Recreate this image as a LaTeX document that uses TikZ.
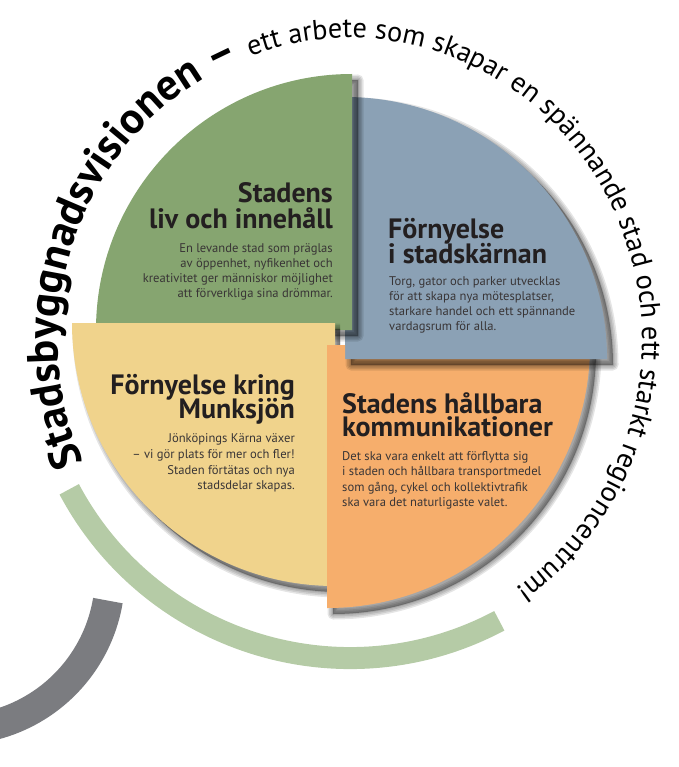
\documentclass[tikz,border=0pt]{standalone}
\usepackage{fontspec}
\setmainfont{PT Sans}
\usetikzlibrary{decorations.text}
\definecolor{cgreen}{HTML}{86A570}
\definecolor{cblue}{HTML}{8BA1B5}
\definecolor{cyellow}{HTML}{F0D38C}
\definecolor{corange}{HTML}{F6AE6C}
\definecolor{cring}{HTML}{B5CBA6}
\definecolor{chandle}{HTML}{7B7C80}
\definecolor{ctext}{HTML}{231F20}
\newcommand\ringboldfont{\fontsize{44}{44}\selectfont\bfseries}
\newcommand\ringregfont{\fontsize{28.3}{28.3}\selectfont\mdseries}
\tikzset{
  ttl/.style={font=\fontsize{28}{28}\selectfont\bfseries, text=ctext, inner sep=0pt},
  bdy/.style={font=\fontsize{12.6}{12.6}\selectfont, text=ctext!90, inner sep=0pt},
  shadowlayer/.style={black, opacity=0.1, line join=round},
}
\newcommand\dropshadow[1]{%
  \foreach \w in {11,8,5,2}{%
    \filldraw[shadowlayer, line width=\w pt, shift={(6,-6)}] #1;}%
}
\begin{document}
\begin{tikzpicture}[x=1pt,y=1pt]
\useasboundingbox (0,0) rectangle (678,-767);
% pieces as paths
\def\pgreen{(352,-330) -- ++(0,256) arc[start angle=90,end angle=180,radius=256pt] -- cycle}
\def\pblue{(345,-359) -- ++(262,0) arc[start angle=0,end angle=90,radius=262pt] -- cycle}
\def\pyellow{(335,-323) -- ++(-263,0) arc[start angle=180,end angle=270,radius=263pt] -- cycle}
\def\porange{(327,-345) -- ++(0,-263) arc[start angle=270,end angle=360,radius=263pt] -- cycle}
% ring and handle
\draw[cring, line width=22pt] (350,-340) ++(208:318) arc[start angle=208,end angle=298,radius=318pt];
\draw[chandle, line width=30pt] (-45,-575) ++(-9.5:155) arc[start angle=-9.5,end angle=-100,radius=155pt];
% orange (right part), blue, green, yellow, orange (left part)
\dropshadow{\porange}
\begin{scope}
  \clip (345,0) rectangle (678,-767);
  \fill[corange] \porange;
\end{scope}
\dropshadow{\pblue}
\fill[cblue] \pblue;
\dropshadow{\pgreen}
\fill[cgreen] \pgreen;
\begin{scope}
  \clip (0,0) rectangle (340,-767);
  \dropshadow{\pyellow}
\end{scope}
\fill[cyellow] \pyellow;
\begin{scope}
  \clip (0,0) rectangle (345,-767);
  \fill[corange] \porange;
\end{scope}
% curved text
\path[decorate, decoration={text along path, text align={left indent=0pt},
  text={|\ringboldfont|Stadsbyggnadsvisionen – |\ringregfont|ett arbete som skapar en spännande stad och ett starkt regioncentrum!}}]
  (350,-340) ++(204:292 and 302) arc[start angle=204,end angle=-110,x radius=292pt,y radius=302pt];
% green texts
\node[ttl, anchor=base east] (g1) at (333,-203) {Stadens};
\node[ttl, anchor=base east] (g2) at (333,-229) {liv och innehåll};
\node[bdy, anchor=base east] (g3) at (333,-252) {En levande stad som präglas};
\node[bdy, anchor=base east] (g4) at (333,-267) {av öppenhet, nyfikenhet och};
\node[bdy, anchor=base east] (g5) at (333,-282) {kreativitet ger människor möjlighet};
\node[bdy, anchor=base east] (g6) at (333,-297) {att förverkliga sina drömmar.};
% blue texts
\node[ttl, anchor=base west] (b1) at (388,-238) {Förnyelse};
\node[ttl, anchor=base west] (b2) at (388,-263) {i stadskärnan};
\node[bdy, anchor=base west] (b3) at (389,-285) {Torg, gator och parker utvecklas};
\node[bdy, anchor=base west] (b4) at (389,-300) {för att skapa nya mötesplatser,};
\node[bdy, anchor=base west] (b5) at (389,-315) {starkare handel och ett spännande};
\node[bdy, anchor=base west] (b6) at (389,-330) {vardagsrum för alla.};
% yellow texts
\node[ttl, anchor=base east] (y1) at (295,-394) {Förnyelse kring};
\node[ttl, anchor=base east] (y2) at (295,-418) {Munksjön};
\node[bdy, anchor=base east] (y3) at (295,-442) {Jönköpings Kärna växer};
\node[bdy, anchor=base east] (y4) at (295,-458) {– vi gör plats för mer och fler!};
\node[bdy, anchor=base east] (y5) at (295,-474) {Staden förtätas och nya};
\node[bdy, anchor=base east] (y6) at (295,-489) {stadsdelar skapas.};
% orange texts
\node[ttl, anchor=base west] (o1) at (342,-413) {Stadens hållbara};
\node[ttl, anchor=base west] (o2) at (342,-436) {kommunikationer};
\node[bdy, anchor=base west] (o3) at (342,-460) {Det ska vara enkelt att förflytta sig};
\node[bdy, anchor=base west] (o4) at (342,-475) {i staden och hållbara transportmedel};
\node[bdy, anchor=base west] (o5) at (342,-491) {som gång, cykel och kollektivtrafik};
\node[bdy, anchor=base west] (o6) at (342,-506) {ska vara det naturligaste valet.};
\end{tikzpicture}
\end{document}
